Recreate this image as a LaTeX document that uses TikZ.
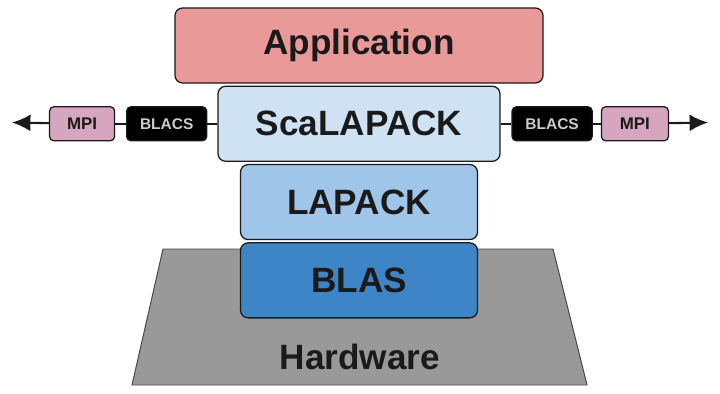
\documentclass[tikz,border=0pt]{standalone}
\usepackage{fontspec}
\setmainfont{Liberation Sans}
\usetikzlibrary{arrows.meta,positioning}
\definecolor{appred}{HTML}{EA9999}
\definecolor{scalblue}{HTML}{CFE2F3}
\definecolor{lapblue}{HTML}{9FC5E8}
\definecolor{blasblue}{HTML}{3D85C6}
\definecolor{mpipink}{HTML}{D5A6BD}
\definecolor{hwgray}{HTML}{999999}
\definecolor{ink}{HTML}{1A1A1A}

\begin{document}
\begin{tikzpicture}[
  x=0.025cm, y=0.025cm, >={Latex[length=4.6mm, width=4.2mm]},
  layer/.style={draw=ink, line width=0.9pt, rounded corners=5.5pt, minimum height=1.875cm, inner sep=0pt,
    font=\fontsize{25}{30}\selectfont\bfseries, text=ink},
  comm/.style={draw=ink, line width=0.9pt, rounded corners=3pt, minimum height=0.85cm, inner sep=0pt,
    font=\fontsize{11}{13}\selectfont\bfseries},
  mpi/.style={comm, fill=mpipink, text=ink, font=\fontsize{12}{14}\selectfont\bfseries},
  blacs/.style={comm, fill=black, text=black!20}]
  \useasboundingbox (0,0) rectangle (720,-393);
  % hardware base
  \draw[draw=ink!80, line width=0.7pt, fill=hwgray] (163,-249) -- (553,-249) -- (587,-385) -- (132,-385) -- cycle;
  \node[font=\fontsize{25}{30}\selectfont\bfseries, text=ink] (hw) at (360,-357) {Hardware};
  % software stack
  \node[layer, fill=appred, minimum width=9.2cm] (app) at (359,-45.5) {Application};
  \node[layer, fill=scalblue, minimum width=7.05cm, below=0.05cm of app] (scal) {ScaLAPACK};
  \node[layer, fill=lapblue, minimum width=5.925cm, below=0.05cm of scal] (lapack) {LAPACK};
  \node[layer, fill=blasblue, minimum width=5.925cm, below=0.05cm of lapack] (blas) {BLAS};
  % communication layers
  \node[blacs, minimum width=2cm, left=0.25cm of scal] (blacsL) {BLACS};
  \node[mpi, minimum width=1.625cm, left=0.27cm of blacsL] (mpiL) {MPI};
  \node[blacs, minimum width=2cm, right=0.27cm of scal] (blacsR) {BLACS};
  \node[mpi, minimum width=1.675cm, right=0.2cm of blacsR] (mpiR) {MPI};
  \coordinate (tipL) at (12,-122.5);
  \coordinate (tipR) at (708,-122.5);
  \draw[line width=1.5pt, ink] (scal.west) -- (blacsL);
  \draw[line width=1.5pt, ink] (blacsL) -- (mpiL);
  \draw[->, line width=1.5pt, ink] (mpiL) -- (tipL);
  \draw[line width=1.5pt, ink] (scal.east) -- (blacsR);
  \draw[line width=1.5pt, ink] (blacsR) -- (mpiR);
  \draw[->, line width=1.5pt, ink] (mpiR) -- (tipR);
\end{tikzpicture}
\end{document}
